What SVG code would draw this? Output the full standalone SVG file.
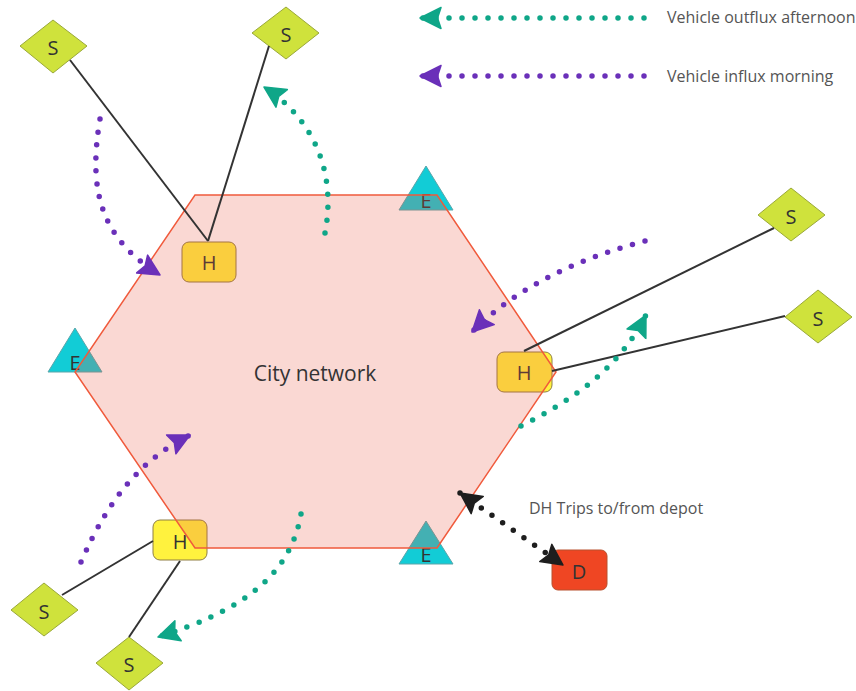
<svg xmlns="http://www.w3.org/2000/svg" width="856" height="691" viewBox="0 0 856 691">
  <defs>
    <style>
      text { font-family: "Open Sans", "Noto Sans", "Liberation Sans", sans-serif; fill: #333333; }
      .lbl { font-size: 20px; text-anchor: middle; dominant-baseline: central; }
      .note { font-size: 16px; fill: #555555; }
      .site { fill: #cfe23c; stroke: #9aa83a; stroke-width: 1; }
      .hub { fill: #fff23e; stroke: #8f7f45; stroke-width: 1; }
      .entry { fill: #12ccd6; stroke: #5aa6aa; stroke-width: 1; }
      .depot { fill: #ef4623; stroke: #b8502e; stroke-width: 1; }
      .link { fill: none; stroke: #333333; stroke-width: 2; }
      .flow { fill: none; stroke-width: 5.5; stroke-linecap: round; stroke-dasharray: 0 13; }
      .out { stroke: #0fa688; }
      .in { stroke: #6a30b9; }
      .dh { stroke: #1e1e1e; }
    </style>
    <marker id="headOut" markerUnits="userSpaceOnUse" markerWidth="24" markerHeight="24" viewBox="0 0 24 24" refX="22" refY="12" orient="auto">
      <path d="M22,12 L1,1.5 L4.5,12 L1,22.5 Z" fill="#0fa688" stroke="#0fa688" stroke-width="1.5" stroke-linejoin="round"/>
    </marker>
    <marker id="headIn" markerUnits="userSpaceOnUse" markerWidth="24" markerHeight="24" viewBox="0 0 24 24" refX="22" refY="12" orient="auto">
      <path d="M22,12 L1,1.5 L4.5,12 L1,22.5 Z" fill="#6a30b9" stroke="#6a30b9" stroke-width="1.5" stroke-linejoin="round"/>
    </marker>
    <marker id="headDh" markerUnits="userSpaceOnUse" markerWidth="24" markerHeight="24" viewBox="0 0 24 24" refX="22" refY="12" orient="auto-start-reverse">
      <path d="M22,12 L1,1.5 L4.5,12 L1,22.5 Z" fill="#1e1e1e" stroke="#1e1e1e" stroke-width="1.5" stroke-linejoin="round"/>
    </marker>
  </defs>

  <rect width="856" height="691" fill="#ffffff"/>

  <!-- entry points -->
  <g id="entry-top">
    <polygon class="entry" points="426,166 399,210 453,210"/>
    <text class="lbl" x="426" y="200">E</text>
  </g>
  <g id="entry-left">
    <polygon class="entry" points="75,328 48,372 102,372"/>
    <text class="lbl" x="75" y="362">E</text>
  </g>
  <g id="entry-bottom">
    <polygon class="entry" points="426,521 399,564 453,564"/>
    <text class="lbl" x="426" y="554">E</text>
  </g>

  <!-- hubs -->
  <g id="hub-north">
    <rect class="hub" x="182" y="242" width="54" height="40" rx="7"/>
    <text class="lbl" x="209" y="262">H</text>
  </g>
  <g id="hub-east">
    <rect class="hub" x="497" y="352" width="55" height="40" rx="7"/>
    <text class="lbl" x="524" y="372">H</text>
  </g>
  <g id="hub-southwest">
    <rect class="hub" x="153" y="520" width="54" height="40" rx="7"/>
    <text class="lbl" x="180" y="541">H</text>
  </g>

  <!-- translucent city area over the hubs and entries -->
  <g id="city">
    <polygon points="195,195 437,195 556,372 437,548 195,548 75,372" fill="#e8553f" fill-opacity="0.23" stroke="#f05a3c" stroke-width="1.5"/>
    <text x="315" y="373" font-size="21" text-anchor="middle" dominant-baseline="central">City network</text>
  </g>

  <!-- satellite sites -->
  <g id="site-nw">
    <polygon class="site" points="53,20 87,46 53,73 20,46"/>
    <text class="lbl" x="53" y="47">S</text>
  </g>
  <g id="site-n">
    <polygon class="site" points="286,7 319,33 286,59 252,33"/>
    <text class="lbl" x="286" y="34">S</text>
  </g>
  <g id="site-e1">
    <polygon class="site" points="791,188 825,215 791,241 758,215"/>
    <text class="lbl" x="791" y="216">S</text>
  </g>
  <g id="site-e2">
    <polygon class="site" points="818,290 852,317 818,343 785,317"/>
    <text class="lbl" x="818" y="318">S</text>
  </g>
  <g id="site-sw1">
    <polygon class="site" points="44,583 78,610 44,636 11,610"/>
    <text class="lbl" x="44" y="611">S</text>
  </g>
  <g id="site-sw2">
    <polygon class="site" points="129,637 163,663 129,690 96,663"/>
    <text class="lbl" x="129" y="664">S</text>
  </g>

  <!-- depot -->
  <g id="depot">
    <rect class="depot" x="552" y="550" width="55" height="40" rx="6"/>
    <text class="lbl" x="579" y="571">D</text>
  </g>

  <!-- connectors -->
  <g id="connectors">
    <line class="link" x1="70" y1="60" x2="208" y2="241"/>
    <line class="link" x1="269" y1="46" x2="208" y2="241"/>
    <line class="link" x1="774" y1="228" x2="524" y2="351"/>
    <line class="link" x1="785" y1="316" x2="552" y2="371"/>
    <line class="link" x1="62" y1="595" x2="153" y2="541"/>
    <line class="link" x1="129" y1="637" x2="180" y2="561"/>

    <path class="flow in" d="M100,119 C88,190 100,238 160,275" marker-end="url(#headIn)"/>
    <path class="flow out" d="M325,233 C337,170 312,118 264,87" marker-end="url(#headOut)"/>
    <path class="flow in" d="M645,241 C580,258 518,286 472,332" marker-end="url(#headIn)"/>
    <path class="flow out" d="M521,426 C572,400 618,370 646,315" marker-end="url(#headOut)"/>
    <path class="flow in" d="M81,562 C108,500 140,460 190,435" marker-end="url(#headIn)"/>
    <path class="flow out" d="M301,514 C290,578 238,612 158,637" marker-end="url(#headOut)"/>
    <path class="flow dh" d="M460,493 L563,565" marker-start="url(#headDh)" marker-end="url(#headDh)"/>
  </g>

  <!-- legend -->
  <g id="legend">
    <path class="flow out" d="M644,18 L420,18" marker-end="url(#headOut)"/>
    <text class="note" x="667" y="23">Vehicle outflux afternoon</text>
    <path class="flow in" d="M644,76 L420,76" marker-end="url(#headIn)"/>
    <text class="note" x="667" y="82">Vehicle influx morning</text>
  </g>
  <text class="note" x="529" y="514">DH Trips to/from depot</text>
</svg>
